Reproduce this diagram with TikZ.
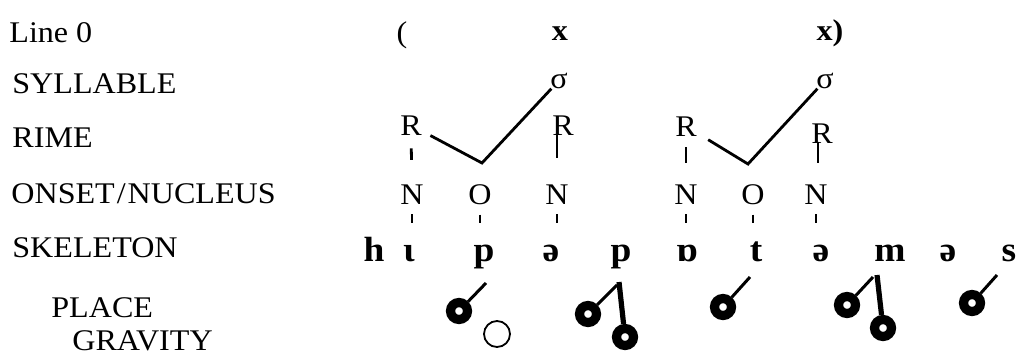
\documentclass[tikz,border=0pt]{standalone}
\usepackage{fontspec}
\setmainfont{Liberation Serif}[FakeStretch=1.07]
\begin{document}
\begin{tikzpicture}[x=0.5pt,y=-0.5pt,
  every node/.style={font=\fontsize{15}{18}\selectfont},
  lab/.style={anchor=base west,inner sep=0pt},
  sym/.style={anchor=base,inner sep=0pt},
  skel/.style={anchor=base,inner sep=0pt,text height=8pt,text depth=3pt,font=\fontsize{17.5}{20}\selectfont\bfseries},
  conn/.style={line width=1.4pt},
  tick/.style={line width=1.4pt},
  stem/.style={line width=1.5pt},
  gstem/.style={line width=2.6pt},
  ring/.style={circle,draw,line width=4.6pt,minimum size=8.5pt,inner sep=0pt},
  oring/.style={circle,draw,line width=0.9pt,minimum size=13pt,inner sep=0pt}]
\useasboundingbox (0,0) rectangle (1020,354);
% row labels
\node[lab] (l0) at (9,42) {Line 0};
\node[lab] (l1) at (12,93) {SYLLABLE};
\node[lab] (l2) at (12,147) {RIME};
\node[lab] (l3) at (11,203) {ONSET\kern1pt/\kern1pt NUCLEUS};
\node[lab] (l4) at (12,257) {SKELETON};
\node[lab] (l5) at (51,317) {PLACE};
\node[lab] (l6) at (72,350) {GRAVITY};
% line 0
\node[sym] (p0) at (402,42) {(};
\node[sym,font=\fontsize{15}{18}\selectfont\bfseries] (x1) at (560,40) {x};
\node[sym,font=\fontsize{15}{18}\selectfont\bfseries] (x2) at (830,40) {x)};
% syllables
\node[sym] (s1) at (559,88) {σ};
\node[sym] (s2) at (825,88) {σ};
% rimes
\node[sym] (R1) at (411,135) {R};
\node[sym] (R2) at (563,135) {R};
\node[sym] (R3) at (686,136) {R};
\node[sym] (R4) at (822,143) {R};
% onset / nucleus
\node[sym] (N1) at (412,204) {N};
\node[sym] (O1) at (480,204) {O};
\node[sym] (N2) at (557,204) {N};
\node[sym] (N3) at (686,204) {N};
\node[sym] (O2) at (753,204) {O};
\node[sym] (N4) at (816,204) {N};
% skeleton
\node[skel] (k1) at (374,261) {h};
\node[skel] (k2) at (409,261) {ɩ};
\node[skel] (k3) at (484,261) {p};
\node[skel] (k4) at (551,261) {ə};
\node[skel] (k5) at (621,261) {p};
\node[skel] (k6) at (687,261) {ɒ};
\node[skel] (k7) at (756,261) {t};
\node[skel] (k8) at (821,261) {ə};
\node[skel] (k9) at (890,261) {m};
\node[skel] (k10) at (948,261) {ə};
\node[skel] (k11) at (1009,261) {s};
% joins
\coordinate (j1) at (482,163);
\coordinate (j2) at (748,164);
\draw[conn,shorten <=11pt] (R1.center) -- (j1) -- (s1);
\draw[conn,shorten <=13pt] (R3.center) -- (j2) -- (s2);
% rime ticks
\draw[tick,shorten <=6.5pt,shorten >=12pt] (R1.south) -- (N1.north);
\draw[conn,shorten >=13pt] ([xshift=-3pt]R2.south) -- ([xshift=-3pt]R2.south |- N2.north);
\draw[tick,shorten <=5.5pt,shorten >=10.5pt] (R3.south) -- (N3.north);
\draw[conn,shorten >=10.5pt] ([xshift=-2pt]R4.south) -- ([xshift=-2pt]R4.south |- N4.north);
% N/O to skeleton ticks
\foreach \a/\b in {N1/k2,O1/k3,N2/k4,N3/k6,O2/k7,N4/k8}
  \draw[tick,shorten <=5pt,shorten >=11pt] (\a.south) -- (\a.south |- \b.north);
% place / gravity
\node[ring] (pl1) at (459,311) {};
\node[oring] (go1) at (497,334) {};
\node[ring] (pl2) at (588,314) {};
\node[ring] (gr2) at (625,337) {};
\node[ring] (pl3) at (723,307) {};
\node[ring] (pl4) at (847,305) {};
\node[ring] (gr4) at (883,328) {};
\node[ring] (pl5) at (972,303) {};
\coordinate (st1) at (486,283);
\coordinate (st2) at (617,285);
\coordinate (gt2) at (619,282);
\coordinate (st3) at (750,277);
\coordinate (st4) at (873,277);
\coordinate (gt4) at (877,275);
\coordinate (st5) at (997,275);
\draw[stem] (st1) -- (pl1);
\draw[stem] (st2) -- (pl2);
\draw[gstem] (gt2) -- (gr2);
\draw[stem] (st3) -- (pl3);
\draw[stem] (st4) -- (pl4);
\draw[gstem] (gt4) -- (gr4);
\draw[stem] (st5) -- (pl5);
\end{tikzpicture}
\end{document}
